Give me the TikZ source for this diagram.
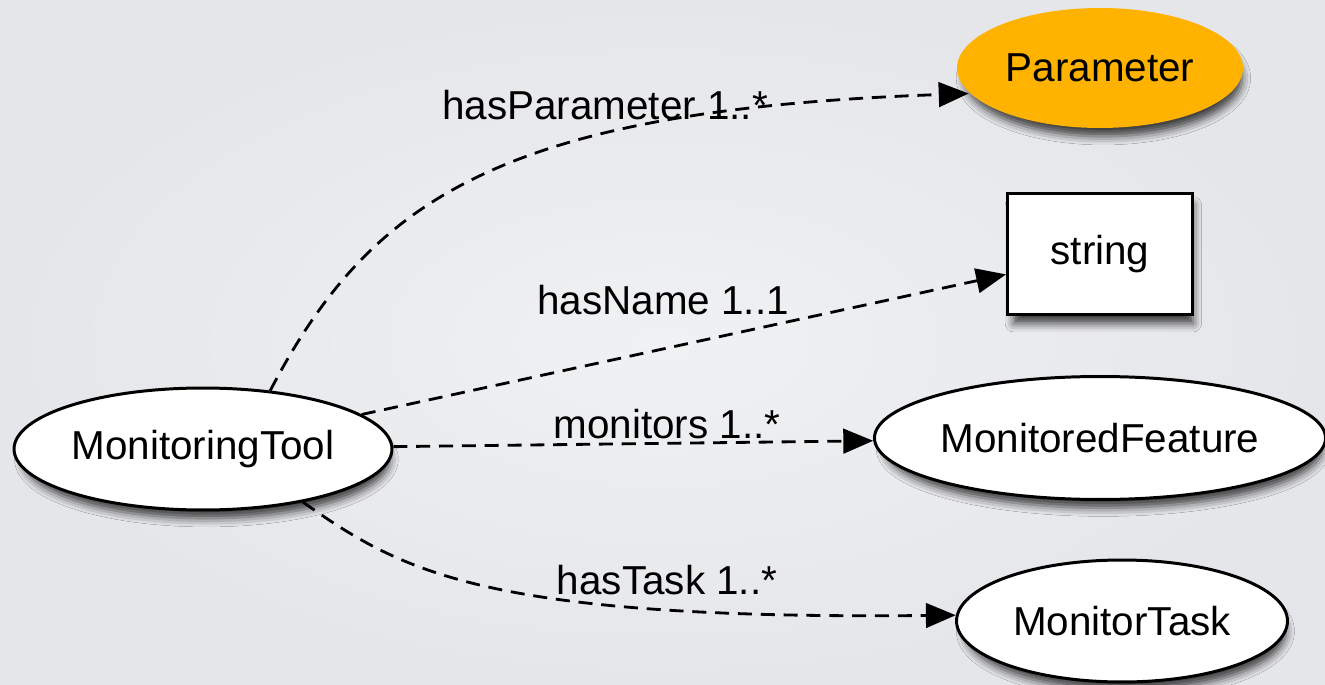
\documentclass[tikz,border=0pt]{standalone}
\usepackage{fontspec}
\setmainfont{Liberation Sans}
\usepackage{tikz}
\usetikzlibrary{positioning, shapes.geometric, arrows.meta, shadows, shadows.blur}
\definecolor{paramorange}{RGB}{255,179,0}
\definecolor{bginner}{RGB}{240,241,243}
\definecolor{bgouter}{RGB}{229,230,233}

\begin{document}
\begin{tikzpicture}[x=0.02cm, y=-0.02cm, font=\fontsize{23}{27}\selectfont,
concept/.style={ellipse, draw=black, line width=1.7pt, fill=#1, inner sep=0pt,
blur shadow={shadow xshift=2pt, shadow yshift=-6pt, shadow scale=0.97, shadow blur radius=5pt, shadow opacity=75}},
literal/.style={rectangle, draw=black, line width=1.7pt, fill=white, inner sep=0pt,
minimum width=3.70cm, minimum height=2.44cm,
blur shadow={shadow xshift=2pt, shadow yshift=-6pt, shadow scale=0.97, shadow blur radius=5pt, shadow opacity=75}},
relation/.style={-{Triangle[length=17pt,width=14pt]}, line width=1.6pt, dash pattern=on 8pt off 5pt},
relname/.style={inner sep=1pt}
]

% Background
\shade[inner color=bginner, outer color=bgouter] (0,0) rectangle (1325,685);
\useasboundingbox (0,0) rectangle (1325,685);

% Classes
\node[concept=white, minimum width=7.56cm, minimum height=2.44cm] (tool) at (203,449) {MonitoringTool};
\node[concept=paramorange, draw=none, minimum width=5.72cm, minimum height=2.40cm] (param) at (1100,68) {Parameter};
\node[literal] (str) at (1100,254) {string};
\node[concept=white, minimum width=8.90cm, minimum height=2.46cm] (feat) at (1100,438) {MonitoredFeature};
\node[concept=white, minimum width=6.62cm, minimum height=2.44cm] (task) at (1122,621) {MonitorTask};

% Properties
\draw[relation] (tool.41) .. controls (370,200) and (500,110) .. (param.191);
\draw[relation] (tool) -- (str);
\draw[relation] (tool) -- (feat);
\draw[relation] (tool.-28) .. controls (400,570) and (480,620) .. (task.178);

% Property labels
\node[relname] (lparam) at (605,105) {hasParameter 1..*};
\node[relname] (lname) at (663,300) {hasName 1..1};
\node[relname] (lmon) at (667,424) {monitors 1..*};
\node[relname] (ltask) at (667,580) {hasTask 1..*};

\end{tikzpicture}
\end{document}
